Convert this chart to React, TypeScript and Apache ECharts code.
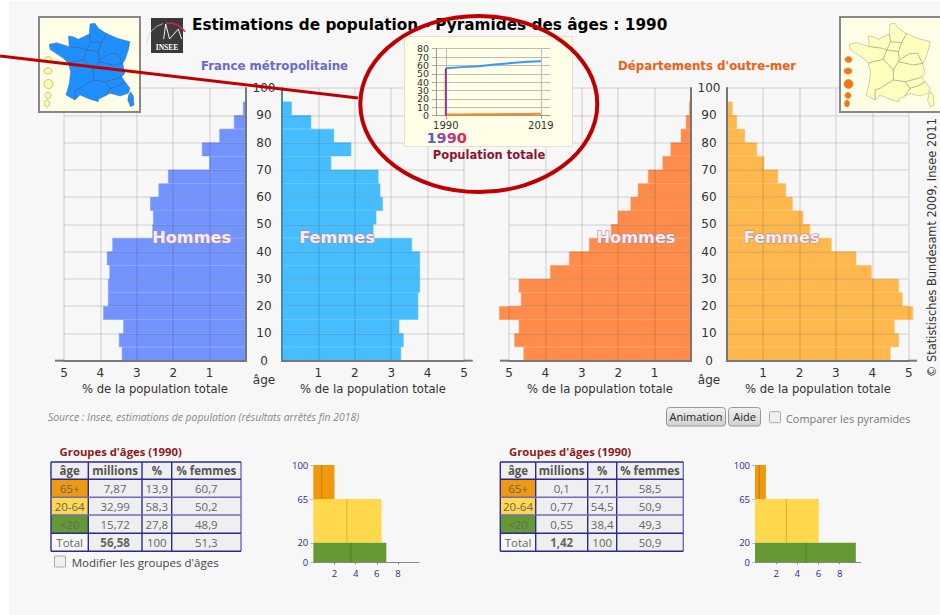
import React, { useEffect, useRef } from "react";
import * as echarts from "echarts";

// ---------- data ----------
const ageBins = ["0","5","10","15","20","25","30","35","40","45","50","55","60","65","70","75","80","85","90","95"];
const metroMen = [3.41,3.49,3.37,3.92,3.79,3.79,3.75,3.82,3.67,2.57,2.55,2.63,2.40,2.14,1.01,1.21,0.73,0.33,0.08];
const metroWomen = [3.27,3.34,3.22,3.74,3.74,3.79,3.79,3.79,3.57,2.51,2.59,2.77,2.70,2.65,1.35,1.90,1.43,0.80,0.27];
const domMen = [4.60,4.85,4.73,5.27,4.67,4.73,3.87,3.35,2.80,2.20,2.01,1.66,1.46,1.18,0.78,0.56,0.28,0.14,0.05];
const domWomen = [4.50,4.73,4.61,5.12,4.83,4.73,3.98,3.56,2.88,2.29,2.10,1.81,1.63,1.41,1.03,0.83,0.50,0.28,0.16];

const years = [1990, 1995, 2000, 2005, 2010, 2015, 2019];
const totalMetro = [56.6, 58.0, 59.0, 61.0, 62.8, 64.4, 65.0];
const totalDom = [1.42, 1.55, 1.68, 1.8, 1.9, 2.1, 2.2];
const cursorYear = [[1990, 0], [1990, 56.6]];
const insetTicksA = [0, 20, 40, 60, 80];
const insetTicksB = [10, 30, 50, 70];

const groupAges = ["65+", "20-64", "<20", "Total"];
const groupHeaders = ["âge", "millions", "%", "% femmes"];
const metroMillions = ["7,87", "32,99", "15,72", "56,58"];
const metroPct = ["13,9", "58,3", "27,8", "100"];
const metroFem = ["60,7", "50,2", "48,9", "51,3"];
const domMillions = ["0,1", "0,77", "0,55", "1,42"];
const domPct = ["7,1", "54,5", "38,4", "100"];
const domFem = ["58,5", "50,9", "49,3", "50,9"];

// [age from, age to, men width, total width]
const metroBands = [[65, 100, 0.8, 2.0], [20, 65, 3.17, 6.45], [0, 20, 3.55, 6.9]];
const domBands = [[65, 100, 0.4, 1.03], [20, 65, 2.96, 6.03], [0, 20, 4.83, 9.53]];
const bandColors = ["#F0980F", "#FFD84D", "#659933"];
const bandLines = ["#c87a08", "#d8b030", "#4c7a22"];

// decorative map outlines, in crop coordinates
const franceOutline = [[180,42],[195,40],[205,55],[228,70],[262,85],[300,95],[295,120],[285,150],[278,160],[285,190],[275,200],[285,215],[300,235],[295,250],[270,258],[240,250],[225,258],[205,268],[205,275],[180,268],[150,255],[135,270],[108,255],[118,220],[122,185],[115,160],[100,145],[60,118],[58,103],[80,98],[118,110],[115,78],[130,80],[145,88],[178,72]];
const corsica = [[302,245],[310,258],[312,285],[302,290],[293,270],[296,255]];
const regionLines = [
  [[178,72],[182,95],[215,98],[230,70]],
  [[182,95],[170,120],[205,125],[215,98]],
  [[205,125],[208,150],[240,130],[262,130],[278,160]],
  [[118,110],[160,115],[170,120]],
  [[170,120],[160,148],[130,155],[115,160]],
  [[160,148],[190,180],[205,155],[208,150]],
  [[190,180],[190,210],[150,235],[135,240],[135,270]],
  [[190,210],[225,215],[240,235],[225,258]],
  [[205,155],[250,165],[278,160]],
  [[225,215],[265,205],[275,200]],
  [[240,235],[270,225],[285,215]],
];
const islands = [[48.5,59.5,3.5,3],[48,71,4,3],[48.5,84,4.5,4.5],[48,95.5,3,3],[47,103.5,2.5,3.5]];

const SANS = '"DejaVu Sans"';
const OPEN = '"Open Sans"';
const GRID_LINE = "rgba(0,0,0,0.08)";

function mapPts(p: number[][], dx: number) {
  return p.map(([x, y]) => [30 + x / 3 + dx, 10 + y / 3]);
}

function mapGraphics(boxX: number, dx: number, land: string, edge: string, island: string, islandEdge: string) {
  const z = 6;
  const out: any[] = [
    { type: "rect", z, shape: { x: boxX, y: 17, width: 101, height: 95 }, style: { fill: "#ffffe8", stroke: "#888", lineWidth: 2 } },
    { type: "polygon", z, shape: { points: mapPts(franceOutline, dx) }, style: { fill: land, stroke: edge, lineWidth: 0.4 } },
    { type: "polygon", z, shape: { points: mapPts(corsica, dx) }, style: { fill: land, stroke: edge, lineWidth: 0.4 } },
  ];
  regionLines.forEach((l) => out.push({ type: "polyline", z, shape: { points: mapPts(l, dx) }, style: { fill: "none", stroke: edge, lineWidth: 0.6 } }));
  islands.forEach(([x, y, rx, ry]) => out.push({ type: "ellipse", z, shape: { cx: x + dx, cy: y, rx, ry }, style: { fill: island, stroke: islandEdge, lineWidth: 0.6 } }));
  return out;
}

function tableGraphics(xs: number[], titleX: number, millions: string[], pct: string[], fem: string[]) {
  const ys = [462, 479.3, 497.3, 515, 533.3, 551.3];
  const out: any[] = [];
  const z = 4;
  out.push({ type: "text", z, style: { text: "Groupes d'âges (1990)", x: titleX, y: 451.5, fill: "#8b1a1a", font: `bold 11.3px ${OPEN}`, textVerticalAlign: "middle" } });
  const cols = [groupAges, millions, pct, fem];
  for (let c = 0; c < 4; c++) {
    const cx = (xs[c] + xs[c + 1]) / 2;
    out.push({ type: "rect", z, shape: { x: xs[c], y: ys[0], width: xs[c + 1] - xs[c], height: ys[1] - ys[0] }, style: { fill: "#efefef" } });
    out.push({ type: "text", z: z + 1, style: { text: groupHeaders[c], x: cx, y: (ys[0] + ys[1]) / 2, fill: "#555", font: `bold 11.5px ${OPEN}`, textAlign: "center", textVerticalAlign: "middle" } });
    for (let r = 0; r < 4; r++) {
      const fill = c === 0 ? (r < 3 ? bandColors[r] : "#f7f7f7") : "#efefef";
      out.push({ type: "rect", z, shape: { x: xs[c], y: ys[r + 1], width: xs[c + 1] - xs[c], height: ys[r + 2] - ys[r + 1] }, style: { fill } });
      const bold = c === 1 && r === 3;
      out.push({ type: "text", z: z + 1, style: { text: cols[c][r], x: cx, y: (ys[r + 1] + ys[r + 2]) / 2, fill: "#666", font: `${bold ? "bold " : ""}11.5px ${OPEN}`, textAlign: "center", textVerticalAlign: "middle" } });
    }
  }
  xs.forEach((x, i) => out.push({ type: "line", z: z + 1, shape: { x1: x, y1: ys[0], x2: x, y2: ys[5] }, style: { stroke: i === 4 ? "#6c6cc0" : "#2a2a96", lineWidth: 1.4 } }));
  ys.forEach((y, i) => out.push({ type: "line", z: z + 1, shape: { x1: xs[0], y1: y, x2: xs[4], y2: y }, style: { stroke: i === 2 || i === 3 ? "#6c6cc0" : "#2a2a96", lineWidth: 1.4 } }));
  return out;
}

function buttonGraphic(x: number, w: number, label: string) {
  return [
    {
      type: "rect", z: 4, shape: { x, y: 407.5, width: w, height: 18.5, r: 3 },
      style: { fill: new echarts.graphic.LinearGradient(0, 0, 0, 1, [{ offset: 0, color: "#f2f2f2" }, { offset: 1, color: "#cfcfcf" }]), stroke: "#999", lineWidth: 1 },
    },
    { type: "text", z: 5, style: { text: label, x: x + w / 2, y: 416.5, fill: "#222", font: `11px ${OPEN}`, textAlign: "center", textVerticalAlign: "middle" } },
  ];
}

function checkbox(x: number, y: number, label: string, color: string, labelX: number, size: number) {
  return [
    { type: "rect", z: 4, shape: { x, y, width: 11, height: 11, r: 1 }, style: { fill: "#f0f0f0", stroke: "#aaa", lineWidth: 1 } },
    { type: "text", z: 4, style: { text: label, x: labelX, y: y + 6.5, fill: color, font: `${size}px ${OPEN}`, textVerticalAlign: "middle" } },
  ];
}

function bigLabel(text: string, x: number) {
  return { type: "text", z: 8, style: { text, x, y: 237, fill: "#f4eef4", stroke: "#b08898", lineWidth: 1.2, font: `bold 16.2px ${SANS}`, textAlign: "center", textVerticalAlign: "middle" } };
}

export default function App() {
  const ref = useRef<HTMLDivElement>(null);
  useEffect(() => {
    const chart = echarts.init(ref.current!, undefined, { renderer: "svg" });

    const grids: any[] = [];
    const xAxes: any[] = [];
    const yAxes: any[] = [];
    const series: any[] = [];

    // main pyramids
    const H = 272.7;
    const addPyramid = (left: number, inverse: boolean, values: number[], color: string, axisColor: string, labels: boolean) => {
      const g = grids.length;
      grids.push({ left, top: 88, width: 182, height: H });
      const xi = xAxes.length;
      xAxes.push({
        gridIndex: g, type: "value", min: 0, max: 5, interval: 1, inverse, z: 3,
        axisLine: { show: true, onZero: false, lineStyle: { color: "#777", width: 2 } },
        axisTick: { show: false },
        splitLine: { show: true, lineStyle: { color: GRID_LINE, width: 2 } },
        axisLabel: { color: "#333", fontFamily: SANS, fontSize: 12, margin: 6, formatter: (v: number) => (v === 0 ? "" : String(v)) },
      });
      const yCat = yAxes.length;
      yAxes.push({ gridIndex: g, type: "category", data: ageBins, show: false, boundaryGap: true });
      yAxes.push({
        gridIndex: g, type: "value", min: 0, max: 100, interval: 10, position: inverse ? "right" : "left", z: 3,
        axisLine: { show: true, onZero: false, lineStyle: { color: axisColor, width: 2 } },
        axisTick: { show: false },
        splitLine: { show: true, lineStyle: { color: GRID_LINE, width: 2 } },
        axisLabel: { show: labels, color: "#333", fontFamily: SANS, fontSize: 12, align: "center", margin: 18, showMinLabel: true, showMaxLabel: true },
      });
      series.push({
        type: "bar", xAxisIndex: xi, yAxisIndex: yCat, data: values, barWidth: "100%", barGap: 0, clip: false, silent: true,
        itemStyle: { color, borderColor: color, borderWidth: 0.5 },
      });
    };
    addPyramid(64, true, metroMen, "#7394FF", "#777", true);
    addPyramid(282, false, metroWomen, "#45BDFF", "#3b8ec4", false);
    addPyramid(509, true, domMen, "#FF8C4A", "#777", true);
    addPyramid(726.7, false, domWomen, "#FFB84D", "#777", false);

    // small age-group charts
    const addBands = (left: number, bands: number[][]) => {
      const g = grids.length;
      grids.push({ left, top: 465, width: 105.8, height: 97.3 });
      const xi = xAxes.length;
      xAxes.push({
        gridIndex: g, type: "value", min: 0, max: 10, interval: 2,
        axisLine: { show: true, lineStyle: { color: "#888", width: 1 } },
        axisTick: { show: true, length: 2, customValues: [2, 4, 6, 8], lineStyle: { color: "#888" } },
        splitLine: { show: false },
        axisLabel: { color: "#2a2a96", fontFamily: OPEN, fontSize: 9.5, margin: 6, customValues: [2, 4, 6, 8] },
      });
      const yi = yAxes.length;
      yAxes.push({
        gridIndex: g, type: "value", min: 0, max: 100,
        axisLine: { show: false },
        axisTick: { show: true, length: 3, customValues: [0, 20, 65, 100], lineStyle: { color: "#bbb" } },
        splitLine: { show: false },
        axisLabel: { color: "#2a2a96", fontFamily: OPEN, fontSize: 9.5, margin: 5, customValues: [0, 20, 65, 100] },
      });
      series.push({
        type: "custom", xAxisIndex: xi, yAxisIndex: yi, data: bands, silent: true, clip: false,
        encode: { x: [2, 3], y: [0, 1] },
        renderItem: (p: any, api: any) => {
          const a = api.coord([0, api.value(0)]);
          const b = api.coord([api.value(3), api.value(1)]);
          const m = api.coord([api.value(2), api.value(0)]);
          return {
            type: "group",
            children: [
              { type: "rect", shape: { x: a[0], y: b[1], width: b[0] - a[0], height: a[1] - b[1] }, style: { fill: bandColors[p.dataIndex] } },
              { type: "line", shape: { x1: m[0], y1: a[1], x2: m[0], y2: b[1] }, style: { stroke: bandLines[p.dataIndex], lineWidth: 1 } },
            ],
          };
        },
      });
    };
    addBands(313.3, metroBands);
    addBands(755, domBands);

    // inset line chart
    {
      const g = grids.length;
      grids.push({ left: 436, top: 48.7, width: 114, height: 67 });
      const xi = xAxes.length;
      xAxes.push({
        gridIndex: g, type: "value", min: 1987, max: 2021.8, z: 21,
        axisLine: { show: true, onZero: false, lineStyle: { color: "#999", width: 1 } },
        axisTick: { show: true, length: 3, customValues: [1990, 2019], lineStyle: { color: "#999" } },
        splitLine: { show: true, lineStyle: { color: "#bbb", width: 1 } },
        axisLabel: { color: "#333", fontFamily: SANS, fontSize: 10, margin: 5, customValues: [1990, 2019], formatter: (v: number) => String(v) },
      });
      const yi = yAxes.length;
      yAxes.push({
        gridIndex: g, type: "value", min: 0, max: 80, interval: 10, z: 21, position: "left",
        axisLine: { show: true, onZero: false, lineStyle: { color: "#999", width: 1 } },
        axisTick: { show: true, length: 4, lineStyle: { color: "#aaa" } },
        splitLine: { show: true, lineStyle: { color: "#bbb", width: 1 } },
        axisLabel: { color: "#333", fontFamily: SANS, fontSize: 9.5, margin: 7, customValues: insetTicksA, showMinLabel: true, showMaxLabel: true, hideOverlap: false },
      });
      // second axis on the same scale: carries the odd tens, so that no label is dropped
      yAxes.push({
        gridIndex: g, type: "value", min: 0, max: 80, interval: 10, z: 21, position: "left", offset: 0,
        axisLine: { show: false, onZero: false },
        axisTick: { show: false },
        splitLine: { show: false },
        axisLabel: { color: "#333", fontFamily: SANS, fontSize: 9.5, margin: 7, customValues: insetTicksB, showMinLabel: true, showMaxLabel: true, hideOverlap: false },
      });
      const line = (data: number[][], color: string) => ({
        type: "line", xAxisIndex: xi, yAxisIndex: yi, data, symbol: "none", z: 22, silent: true,
        lineStyle: { color, width: 2 },
      });
      series.push(line(years.map((y, i) => [y, totalMetro[i]]), "#3399ff"));
      series.push(line(years.map((y, i) => [y, totalDom[i]]), "#ff8c1a"));
      series.push(line(cursorYear, "#a0308a"));
    }

    const graphics: any[] = [
      { type: "rect", z: -5, silent: true, shape: { x: 9, y: 1, width: 931, height: 614 }, style: { fill: "#f7f7f7" } },
      // title
      { type: "text", z: 4, style: { text: "Estimations de population - Pyramides des âges : 1990", x: 192, y: 25, fill: "#000", font: `bold 15.3px ${SANS}`, textVerticalAlign: "middle" } },
      { type: "text", z: 4, style: { text: "France métropolitaine", x: 201, y: 66, fill: "#6a6acc", font: `bold 11.8px ${SANS}`, textVerticalAlign: "middle" } },
      { type: "text", z: 4, style: { text: "Départements d'outre-mer", x: 618, y: 66, fill: "#f06010", font: `bold 11.8px ${SANS}`, textVerticalAlign: "middle" } },
      // logo
      { type: "rect", z: 4, shape: { x: 151, y: 18, width: 32, height: 35 }, style: { fill: "#3a3a3a" } },
      { type: "arc", z: 5, shape: { cx: 168, cy: 44, r: 21, startAngle: Math.PI * 1.0, endAngle: Math.PI * 1.42 }, style: { stroke: "#cfcfcf", fill: "none", lineWidth: 0.8 } },
      { type: "arc", z: 5, shape: { cx: 168, cy: 44, r: 21, startAngle: Math.PI * 1.47, endAngle: Math.PI * 1.8 }, style: { stroke: "#e0204f", fill: "none", lineWidth: 1.6 } },
      { type: "polyline", z: 5, shape: { points: [[163.7, 39], [165.7, 24], [169.5, 39], [178.3, 29], [181.7, 39]] }, style: { fill: "none", stroke: "#f0f0f0", lineWidth: 1 } },
      { type: "text", z: 5, style: { text: "INSEE", x: 167, y: 47.5, fill: "#fff", font: `bold 7.5px "Liberation Serif"`, textAlign: "center", textVerticalAlign: "middle" } },
      // axis extensions
      { type: "line", z: 3, shape: { x1: 55, y1: 360.7, x2: 64, y2: 360.7 }, style: { stroke: "#777", lineWidth: 2 } },
      { type: "line", z: 3, shape: { x1: 464, y1: 360.7, x2: 472.7, y2: 360.7 }, style: { stroke: "#777", lineWidth: 2 } },
      { type: "line", z: 3, shape: { x1: 500, y1: 360.7, x2: 509, y2: 360.7 }, style: { stroke: "#777", lineWidth: 2 } },
      { type: "line", z: 3, shape: { x1: 908.7, y1: 360.7, x2: 917, y2: 360.7 }, style: { stroke: "#777", lineWidth: 2 } },
      // overlays
      bigLabel("Hommes", 191.7), bigLabel("Femmes", 337), bigLabel("Hommes", 636), bigLabel("Femmes", 781.7),
      ...[155, 373, 600, 818].map((x) => ({ type: "text", z: 4, style: { text: "% de la population totale", x, y: 388.5, fill: "#333", font: `11.6px ${SANS}`, textAlign: "center", textVerticalAlign: "middle" } })),
      ...[264, 709].map((x) => ({ type: "text", z: 4, style: { text: "âge", x, y: 380, fill: "#333", font: `12px ${SANS}`, textAlign: "center", textVerticalAlign: "middle" } })),
      { type: "text", z: 4, style: { text: "Source : Insee, estimations de population (résultats arrêtés fin 2018)", x: 48, y: 417, fill: "#888", font: `italic 10.4px ${OPEN}`, textVerticalAlign: "middle" } },
      {
        type: "text", z: 4, x: 932, y: 247.5, rotation: Math.PI / 2,
        style: { text: "© Statistisches Bundesamt 2009, Insee 2011", x: 0, y: 0, fill: "#333", font: `11.4px ${SANS}`, textAlign: "center", textVerticalAlign: "middle" },
      },
      // inset panel
      { type: "rect", z: 20, shape: { x: 404.5, y: 36.5, width: 168, height: 110 }, style: { fill: "#ffffe8", stroke: "#e2e2d4", lineWidth: 1 } },
      {
        type: "text", z: 23,
        style: {
          text: "{a|1}{b|9}{c|9}{d|0}", x: 426.5, y: 138, font: `bold 14.5px ${SANS}`, textVerticalAlign: "middle",
          rich: {
            a: { fill: "#5c60c8", font: `bold 14.5px ${SANS}` },
            b: { fill: "#8a4cb0", font: `bold 14.5px ${SANS}` },
            c: { fill: "#b83a88", font: `bold 14.5px ${SANS}` },
            d: { fill: "#e02458", font: `bold 14.5px ${SANS}` },
          },
        },
      },
      { type: "text", z: 23, style: { text: "Population totale", x: 489, y: 155, fill: "#8b1530", font: `bold 11.5px ${SANS}`, textAlign: "center", textVerticalAlign: "middle" } },
      // maps
      ...mapGraphics(39, 0, "#1e8fff", "#4a5a70", "#ffffa0", "#999980"),
      ...mapGraphics(840, 800, "#ffffc0", "#888870", "#f07818", "#f07818"),
      // tables
      ...tableGraphics([51, 88.3, 142, 171.7, 241], 59.6, metroMillions, metroPct, metroFem),
      ...tableGraphics([500.3, 535.7, 587.7, 616.7, 683.3], 509, domMillions, domPct, domFem),
      ...buttonGraphic(666.5, 59, "Animation"),
      ...buttonGraphic(728.5, 32, "Aide"),
      ...checkbox(769.5, 411.7, "Comparer les pyramides", "#777", 786, 10.9),
      ...checkbox(54.5, 556, "Modifier les groupes d'âges", "#444", 71.7, 11.5),
      // red annotation
      { type: "line", z: 30, shape: { x1: 0, y1: 56, x2: 358, y2: 98 }, style: { stroke: "#c00000", lineWidth: 3 } },
      { type: "ellipse", z: 30, shape: { cx: 478.8, cy: 104, rx: 118.5, ry: 88 }, style: { fill: "none", stroke: "#c00000", lineWidth: 4 } },
    ];

    chart.setOption({
      animation: false,
      backgroundColor: "#ffffff",
      grid: grids,
      xAxis: xAxes,
      yAxis: yAxes,
      series,
      graphic: { elements: graphics },
    });
    return () => chart.dispose();
  }, []);
  return <div ref={ref} style={{ position: "absolute", left: 0, top: 0, width: 940, height: 615 }} />;
}
